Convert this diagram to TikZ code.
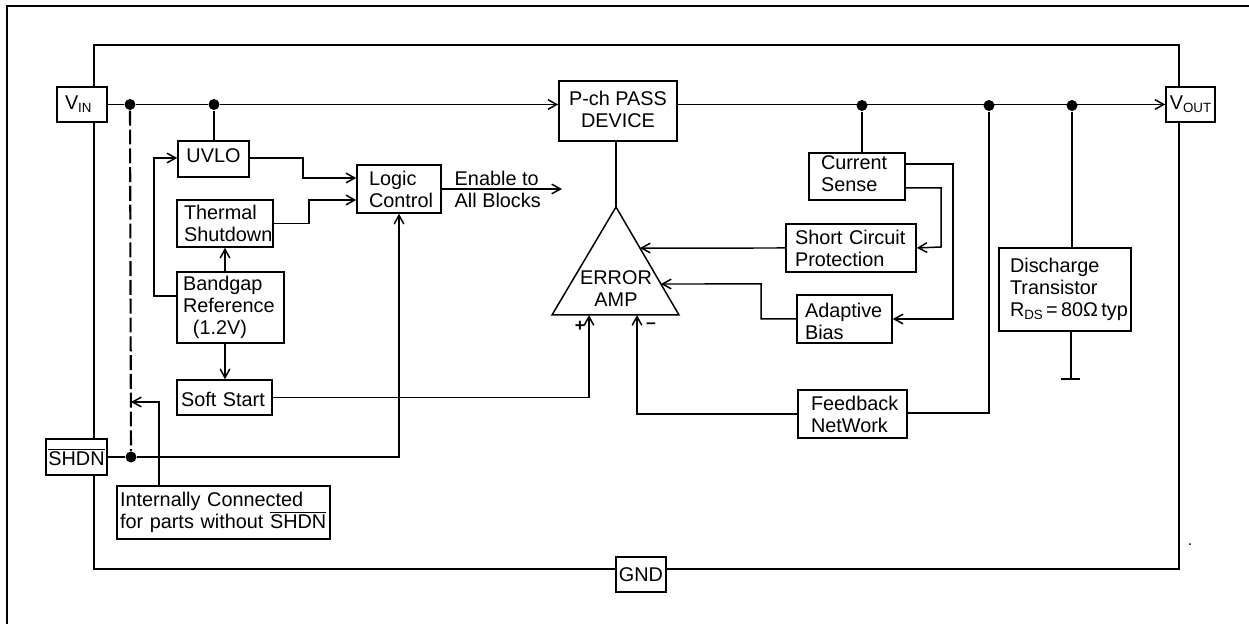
\documentclass[tikz,border=0pt]{standalone}
\usepackage{fontspec}
\setmainfont{Liberation Sans}
\usetikzlibrary{arrows.meta,calc}
\newcommand{\subtxt}[1]{\raisebox{-0.14em}{\fontsize{7.6}{8}\selectfont #1}}
\newcommand{\overtxt}[1]{\ensuremath{\overline{\hbox{#1}}}}
\tikzset{
  blockbox/.style={draw, fill=white, align=left, inner ysep=0pt,
    font=\fontsize{11.3}{12.6}\selectfont},
  pinbox/.style={blockbox, align=center, inner xsep=0pt},
  wire/.style={line width=0.85pt},
  dotnode/.style={circle, fill=black, inner sep=0pt, minimum size=0.22cm}
}
\begin{document}
\begin{tikzpicture}[x=0.02cm,y=-0.02cm,>={Straight Barb[length=5pt,width=5.5pt]},wire]
\useasboundingbox (0,0) rectangle (1249,624);
% outer frame and package outline
\draw[line width=1.5pt] (7,624) -- (7,6) -- (1249,6);
\draw (94,45) rectangle (1179,569);
% pins
\node[blockbox, text width=0.68cm, inner xsep=0.16cm, minimum height=0.7cm] (vin) at (82,104.5) {V\subtxt{IN}};
\node[pinbox, minimum width=0.98cm, minimum height=0.7cm] (vout) at (1190.5,104.5) {V\subtxt{OUT}};
\node[pinbox, minimum width=1.22cm, minimum height=0.72cm] (shdn) at (76.5,457) {\overtxt{SHDN}};
\node[pinbox, minimum width=1cm, minimum height=0.7cm] (gnd) at (641,574.5) {GND};
% blocks
\node[pinbox, minimum width=1.42cm, minimum height=0.72cm, text depth=3.4pt] (uvlo) at (213.5,159) {UVLO};
\node[blockbox, text width=1.64cm, inner xsep=0.14cm, minimum height=0.94cm] (thermal) at (225,223.5) {Thermal\\Shutdown};
\node[blockbox, text width=1.9cm, inner xsep=0.12cm, minimum height=1.42cm] (bandgap) at (230.5,307.5) {Bandgap\\Reference\\\ \,(1.2V)};
\node[blockbox, text width=1.74cm, inner xsep=0.08cm, minimum height=0.7cm] (soft) at (224.5,397.5) {\rule{0pt}{10pt}Soft~Start};
\node[blockbox, text width=1.2cm, inner xsep=0.24cm, minimum height=0.96cm] (logic) at (399,189) {Logic\\Control};
\node[pinbox, minimum width=2.36cm, minimum height=1.2cm] (pch) at (618,111) {P-ch PASS\\\rule[-2pt]{0pt}{0pt}DEVICE};
\node[blockbox, text width=1.44cm, inner xsep=0.24cm, minimum height=0.94cm] (current) at (857,176.5) {Current\\\rule[-3.4pt]{0pt}{0pt}Sense};
\node[blockbox, text width=2.24cm, inner xsep=0.18cm, minimum height=0.96cm] (short) at (851,248) {Short~Circuit\\Protection};
\node[blockbox, text width=1.58cm, inner xsep=0.16cm, minimum height=0.96cm] (adaptive) at (844.5,319) {\rule{0pt}{10.5pt}Adaptive\\Bias};
\node[blockbox, text width=1.66cm, inner xsep=0.26cm, minimum height=0.96cm] (feedback) at (852.5,414) {Feedback\\NetWork};
\node[blockbox, text width=2.2cm, inner xsep=0.22cm, minimum height=1.66cm] (discharge) at (1065,289.5) {Discharge\\Transistor\\R\subtxt{DS}\,=\,80Ω\,typ};
\node[blockbox, text width=4.14cm, inner xsep=0.06cm, minimum height=1.06cm] (internal) at (223.5,512.5) {Internally~Connected\\for~parts~without~\overtxt{SHDN}};
% error amp
\coordinate (amptop) at (616,207);
\coordinate (ampleft) at (552,315);
\coordinate (ampright) at (679,315);
\draw (ampleft) -- (ampright) -- (amptop) -- cycle;
\node[align=center, font=\fontsize{11.3}{12.6}\selectfont] (amptext) at (616,289) {ERROR\\AMP};
\node[font=\bfseries\fontsize{10}{12}\selectfont] (plus) at (580,326) {+};
\node[font=\bfseries\fontsize{10}{12}\selectfont] (minus) at (651,326) {--};
% junctions
\node[dotnode] (vina) at (130,104.5) {};
\node[dotnode] (vinb) at (214,104.5) {};
\node[dotnode] (outa) at (862,105.5) {};
\node[dotnode] (outb) at (989,105.5) {};
\node[dotnode] (outc) at (1072,105.5) {};
\node[dotnode] (shdna) at (131,457) {};
% supply rail
\draw[->] (vin) -- (vina) -- (vinb) -- (pch.west |- vina);
\draw[->] (pch.east |- vin) -- (vout.west |- vin);
\draw (vinb) -- (vinb |- uvlo.north);
\draw (outa) -- (outa |- current.north);
\draw (outb) |- (feedback.east |- 0,413);
\draw (outc) -- (outc |- discharge.north);
\draw[dash pattern=on 8.5pt off 2.2pt, line width=1.2pt] (vina) -- (shdna);
% left column
\draw[->] (bandgap.west |- 0,296) -| (154,158) -- (uvlo.west |- 0,158);
\draw[->] (uvlo.east |- 0,158) -| (303,178) -- (logic.west |- 0,178);
\draw[->] (thermal.east) -| (309,200) -- (logic.west |- 0,200);
\draw[->] (bandgap.north -| 225,0) -- (thermal.south -| 225,0);
\draw[->] (bandgap.south -| 225,0) -- (soft.north -| 225,0);
\draw (shdn) -- (shdna);
\draw[->] (shdna) -| (logic.south);
\draw[->] (internal.north -| 159,0) |- (shdna |- 0,402);
\draw[->] (logic.east) -- (562,189);
\node[align=left, font=\fontsize{11.3}{12.6}\selectfont, inner sep=0pt, anchor=west] (enable) at (454,189) {Enable to\\All Blocks};
% error amp wiring
\draw (amptop) -- (amptop |- pch.south);
\draw[->] (soft.east) -| (589,315);
\draw[->] (feedback.west) -| (637,315);
\draw[->] (short.west) -- ($(amptop)!0.38!(ampright)$);
\draw[->] (adaptive.west) -| (761,284) -- ($(amptop)!0.713!(ampright)$);
% current sense wiring
\draw[->] (current.east |- 0,188) -| (941,247) -- (short.east);
\draw[->] (current.east |- 0,164) -| (953,319) -- (adaptive.east);
% ground
\draw (1071,331) -- (1071,379);
\draw (1061,379) -- (1080,379);
\node[font=\fontsize{9}{10}\selectfont, inner sep=0pt] (speck) at (1190,545) {.};
\end{tikzpicture}
\end{document}
